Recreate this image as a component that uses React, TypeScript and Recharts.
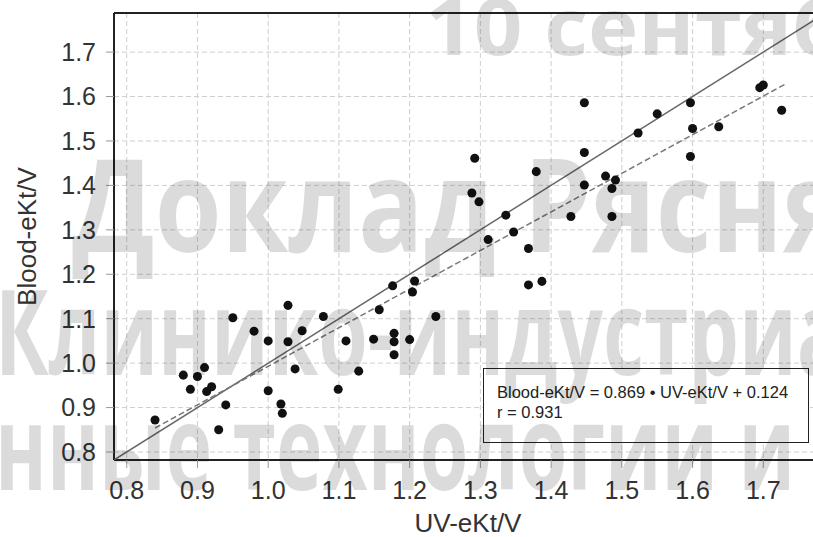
import { ScatterChart, Scatter, XAxis, YAxis, ZAxis, CartesianGrid, ReferenceLine } from 'recharts';

// values
const UV_EKTV = [
  0.84, 0.93, 0.88, 0.9, 0.91, 0.89, 0.913, 0.92, 0.94, 0.95, 0.98, 1.0, 1.028, 1.048, 1.028, 1.078, 1.11, 1.038,
  1.0, 1.018, 1.02, 1.099, 1.128, 1.149, 1.157, 1.176, 1.178, 1.178, 1.178, 1.2, 1.204, 1.207, 1.237, 1.292, 1.288,
  1.298, 1.311, 1.336, 1.347, 1.368, 1.368, 1.387, 1.379, 1.428, 1.447, 1.447, 1.447, 1.477, 1.491, 1.486, 1.486,
  1.523, 1.55, 1.597, 1.597, 1.6, 1.637, 1.695, 1.7, 1.726,
];
const BLOOD_EKTV = [
  0.872, 0.85, 0.973, 0.97, 0.99, 0.941, 0.936, 0.947, 0.906, 1.102, 1.072, 1.05, 1.13, 1.073, 1.048, 1.105, 1.05,
  0.987, 0.938, 0.908, 0.887, 0.941, 0.982, 1.054, 1.12, 1.174, 1.067, 1.048, 1.019, 1.053, 1.16, 1.185, 1.105, 1.461,
  1.383, 1.363, 1.278, 1.333, 1.295, 1.258, 1.176, 1.184, 1.431, 1.33, 1.401, 1.474, 1.586, 1.421, 1.412, 1.393, 1.33,
  1.518, 1.561, 1.586, 1.465, 1.528, 1.532, 1.62, 1.626, 1.569,
];

// line of identity and the fitted line (Blood = 0.869 * UV + 0.124)
const IDENTITY_X = [0.782, 1.783];
const IDENTITY_Y = [0.782, 1.783];
const FIT_X = [0.84, 1.73];
const FIT_Y = [0.854, 1.627];

const X_TICKS = [0.8, 0.9, 1.0, 1.1, 1.2, 1.3, 1.4, 1.5, 1.6, 1.7];
const Y_TICKS = [0.8, 0.9, 1.0, 1.1, 1.2, 1.3, 1.4, 1.5, 1.6, 1.7];
const X_DOMAIN: [number, number] = [0.782, 1.783];
const Y_DOMAIN: [number, number] = [0.782, 1.788];

const WATERMARK = ['10 сентяб', 'Доклад Рясня', 'Клинико-индустриа', 'нные технологии и'];

const FONT = "'Liberation Sans', Arial, Helvetica, sans-serif";

const toPoints = (xs: number[], ys: number[]) => xs.map((x, i) => ({ x, y: ys[i] }));

export default function App() {
  const points = toPoints(UV_EKTV, BLOOD_EKTV);
  const identity = toPoints(IDENTITY_X, IDENTITY_Y);
  const fit = toPoints(FIT_X, FIT_Y);
  const tick = { fill: '#333', fontSize: 25, fontFamily: FONT };
  const titleStyle = { fontSize: 26, fill: '#333', fontFamily: FONT, textAnchor: 'middle' as const };

  return (
    <div
      style={{
        position: 'absolute',
        left: 0,
        top: 0,
        width: 813,
        height: 537,
        overflow: 'hidden',
        background: '#fff',
        fontFamily: FONT,
      }}
    >
      <ScatterChart width={840} height={537} margin={{ top: 13, right: 18, bottom: 0, left: 0 }}>
        <CartesianGrid strokeDasharray="5 3" stroke="#cfcfcf" />
        <XAxis
          type="number"
          dataKey="x"
          domain={X_DOMAIN}
          ticks={X_TICKS}
          allowDataOverflow
          height={77}
          tick={tick}
          tickSize={8}
          tickMargin={13}
          tickLine={{ stroke: '#999' }}
          axisLine={{ stroke: '#222', strokeWidth: 2 }}
          tickFormatter={(v: number) => v.toFixed(1)}
          label={{ value: 'UV-eKt/V', position: 'insideBottom', offset: 5, style: titleStyle }}
        />
        <YAxis
          type="number"
          dataKey="y"
          domain={Y_DOMAIN}
          ticks={Y_TICKS}
          allowDataOverflow
          width={114}
          tick={tick}
          tickSize={8}
          tickMargin={10}
          tickLine={{ stroke: '#999' }}
          axisLine={{ stroke: '#222', strokeWidth: 2 }}
          tickFormatter={(v: number) => v.toFixed(1)}
          label={{ value: 'Blood-eKt/V', angle: -90, position: 'insideLeft', offset: 27, style: titleStyle }}
        />
        <ZAxis range={[58, 58]} />
        <ReferenceLine y={Y_DOMAIN[1]} stroke="#222" strokeWidth={2} />
        <Scatter
          data={identity}
          line={{ stroke: '#666', strokeWidth: 1.5 }}
          shape={() => <g />}
          isAnimationActive={false}
        />
        <Scatter
          data={fit}
          line={{ stroke: '#777', strokeWidth: 1.5, strokeDasharray: '6 3' }}
          shape={() => <g />}
          isAnimationActive={false}
        />
        <Scatter data={points} fill="#111" isAnimationActive={false} />
      </ScatterChart>

      <div
        style={{
          position: 'absolute',
          left: 483,
          top: 368,
          width: 311,
          height: 60,
          border: '1px solid #222',
          background: '#fff',
          boxSizing: 'content-box',
          padding: '13px 0 0 13px',
          fontSize: 16.5,
          lineHeight: '20px',
          color: '#222',
          whiteSpace: 'nowrap',
        }}
      >
        <div>Blood-eKt/V = 0.869 {'\u2022'} UV-eKt/V + 0.124</div>
        <div>r = 0.931</div>
      </div>

      <svg
        width={813}
        height={537}
        style={{ position: 'absolute', left: 0, top: 0, pointerEvents: 'none' }}
      >
        <g fill="rgba(0,0,0,0.14)" fontFamily="'Open Sans', 'Noto Sans', sans-serif" fontWeight={700}>
          <text x={425} y={55} fontSize={78} textLength={420} lengthAdjust="spacingAndGlyphs">
            {WATERMARK[0]}
          </text>
          <text x={72} y={252} fontSize={130} textLength={775} lengthAdjust="spacingAndGlyphs">
            {WATERMARK[1]}
          </text>
          <text x={-5} y={375} fontSize={118} textLength={850} lengthAdjust="spacingAndGlyphs">
            {WATERMARK[2]}
          </text>
          <text x={-5} y={490} fontSize={118} textLength={800} lengthAdjust="spacingAndGlyphs">
            {WATERMARK[3]}
          </text>
        </g>
      </svg>
    </div>
  );
}
